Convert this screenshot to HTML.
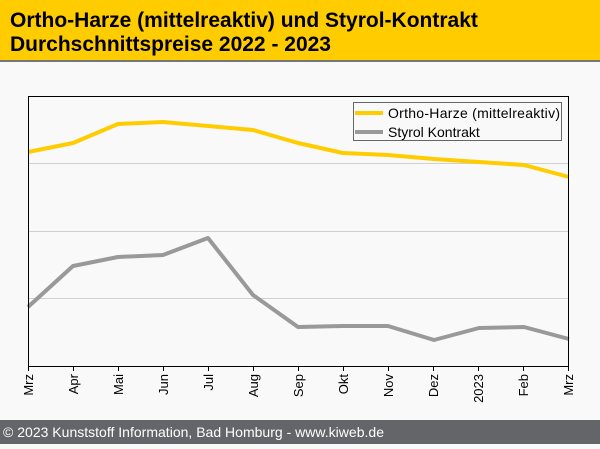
<!DOCTYPE html>
<html><head><meta charset="utf-8"><style>
body{margin:0;width:600px;height:444px;background:#f9f9f9;overflow:hidden;font-family:"Liberation Sans",sans-serif}
</style></head><body>
<svg width="600" height="444" xmlns="http://www.w3.org/2000/svg" font-family="Liberation Sans, sans-serif">
<rect x="0" y="0" width="600" height="444" fill="#f9f9f9"/>
<rect x="0" y="0" width="600" height="60" fill="#ffcc00"/>
<rect x="0" y="60" width="600" height="2" fill="#777"/>
<text x="10" y="27" font-size="21" font-weight="bold" fill="#000">Ortho-Harze (mittelreaktiv) und Styrol-Kontrakt</text>
<text x="10" y="51" font-size="21" font-weight="bold" fill="#000">Durchschnittspreise 2022 - 2023</text>
<g stroke="#d0d0d0" stroke-width="1">
<line x1="29" y1="163.5" x2="568" y2="163.5"/>
<line x1="29" y1="231.5" x2="568" y2="231.5"/>
<line x1="29" y1="298.5" x2="568" y2="298.5"/>
</g>
<polyline fill="none" stroke="#ffcc00" stroke-width="4" stroke-linejoin="round" points="28,152 73,143 118,124 163,122 208,126 253,130 298,143 343,153 388,155 434,159 479,162 524,165 569,177"/>
<polyline fill="none" stroke="#999" stroke-width="4" stroke-linejoin="round" points="28,307 73,266 118,257 163,255 208,238 253,295 298,327 343,326 388,326 434,340 479,328 524,327 569,339"/>
<rect x="28.5" y="96.5" width="540" height="270" fill="none" stroke="#000" stroke-width="1"/>
<rect x="353.5" y="102.5" width="208" height="38" fill="#f9f9f9" stroke="#666" stroke-width="1"/>
<line x1="355" y1="113" x2="383" y2="113" stroke="#ffcc00" stroke-width="4"/>
<line x1="355" y1="132" x2="383" y2="132" stroke="#999" stroke-width="4"/>
<text x="388" y="118" font-size="14" fill="#000" textLength="172">Ortho-Harze (mittelreaktiv)</text>
<text x="388" y="137" font-size="14" fill="#000">Styrol Kontrakt</text>
<g stroke="#000" stroke-width="1">
<line x1="28.5" y1="366" x2="28.5" y2="371"/><line x1="73.5" y1="366" x2="73.5" y2="371"/><line x1="118.5" y1="366" x2="118.5" y2="371"/><line x1="163.5" y1="366" x2="163.5" y2="371"/><line x1="208.5" y1="366" x2="208.5" y2="371"/><line x1="253.5" y1="366" x2="253.5" y2="371"/><line x1="298.5" y1="366" x2="298.5" y2="371"/><line x1="343.5" y1="366" x2="343.5" y2="371"/><line x1="388.5" y1="366" x2="388.5" y2="371"/><line x1="433.5" y1="366" x2="433.5" y2="371"/><line x1="478.5" y1="366" x2="478.5" y2="371"/><line x1="523.5" y1="366" x2="523.5" y2="371"/><line x1="568.5" y1="366" x2="568.5" y2="371"/>
</g>
<g font-size="13" fill="#000" text-anchor="end">
<text transform="translate(33,374) rotate(-90)">Mrz</text>
<text transform="translate(78,374) rotate(-90)">Apr</text>
<text transform="translate(123,374) rotate(-90)">Mai</text>
<text transform="translate(168,374) rotate(-90)">Jun</text>
<text transform="translate(213,374) rotate(-90)">Jul</text>
<text transform="translate(258,374) rotate(-90)">Aug</text>
<text transform="translate(303,374) rotate(-90)">Sep</text>
<text transform="translate(348,374) rotate(-90)">Okt</text>
<text transform="translate(393,374) rotate(-90)">Nov</text>
<text transform="translate(438,374) rotate(-90)">Dez</text>
<text transform="translate(483,374) rotate(-90)">2023</text>
<text transform="translate(528,374) rotate(-90)">Feb</text>
<text transform="translate(573,374) rotate(-90)">Mrz</text>
</g>
<rect x="0" y="420" width="600" height="24" fill="#646569"/>
<text x="3" y="437" font-size="14" fill="#fff" textLength="381">© 2023 Kunststoff Information, Bad Homburg - www.kiweb.de</text>
</svg>
</body></html>
